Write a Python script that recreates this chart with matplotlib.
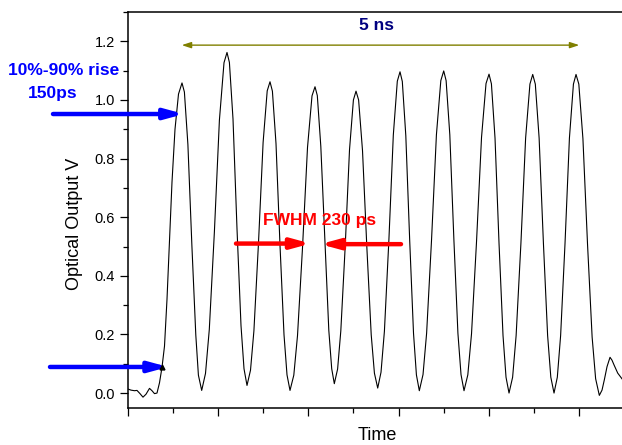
# optical pulse train - scope trace with rise time / FWHM annotations
from matplotlib import pyplot as plt
from matplotlib.ticker import MultipleLocator
import numpy as np

plt.rcParams['font.family'] = ['Liberation Sans', 'DejaVu Sans']

# trace (time in ps, arbitrary origin)
time_ps = [0, 33, 68, 93, 123, 153, 183, 218, 243, 268, 293, 318, 343, 368, 393, 418, 443, 473, 508, 543,
           567, 602, 642, 681, 707, 740,
           778, 816, 867, 917, 963, 993,
           1017, 1053, 1093, 1133, 1163, 1193,
           1228, 1262, 1308, 1354, 1395, 1423,
           1447, 1483, 1523, 1563, 1593, 1623,
           1661, 1698, 1748, 1798, 1843, 1873,
           1896, 1931, 1973, 2011, 2040, 2066,
           2099, 2131, 2175, 2218, 2257, 2283,
           2309, 2348, 2392, 2435, 2467, 2500,
           2533, 2567, 2612, 2656, 2696, 2723,
           2746, 2781, 2820, 2858, 2887, 2916,
           2953, 2989, 3038, 3087, 3131, 3160,
           3184, 3221, 3262, 3302, 3333, 3363,
           3401, 3438, 3488, 3538, 3583, 3613,
           3637, 3673, 3713, 3753, 3783, 3813,
           3849, 3884, 3932, 3979, 4022, 4050,
           4076, 4114, 4157, 4199, 4231, 4263,
           4296, 4329, 4373, 4417, 4457, 4483,
           4511, 4552, 4598, 4644, 4679, 4716,
           4743, 4766, 4793, 4823, 4843, 4863, 4900, 4943, 4973]

optical_v = [0.014, 0.010, 0.008, 0.009, -0.002, -0.014, -0.004, 0.016, 0.008, -0.002, 0.000, 0.035, 0.088,
             0.160, 0.320, 0.520, 0.720, 0.900, 1.020, 1.058,
             1.027, 0.848, 0.502, 0.198, 0.061, 0.009,
             0.067, 0.217, 0.551, 0.931, 1.127, 1.162,
             1.128, 0.935, 0.560, 0.230, 0.083, 0.026,
             0.078, 0.212, 0.513, 0.855, 1.031, 1.062,
             1.030, 0.851, 0.504, 0.199, 0.062, 0.009,
             0.061, 0.196, 0.496, 0.838, 1.014, 1.045,
             1.015, 0.842, 0.508, 0.214, 0.083, 0.032,
             0.082, 0.212, 0.501, 0.830, 1.000, 1.030,
             1.000, 0.827, 0.493, 0.199, 0.068, 0.017,
             0.071, 0.211, 0.524, 0.880, 1.064, 1.096,
             1.063, 0.878, 0.519, 0.204, 0.062, 0.008,
             0.063, 0.204, 0.521, 0.881, 1.066, 1.099,
             1.066, 0.881, 0.521, 0.204, 0.063, 0.008,
             0.062, 0.202, 0.516, 0.872, 1.056, 1.088,
             1.055, 0.870, 0.511, 0.196, 0.054, 0.000,
             0.054, 0.196, 0.511, 0.870, 1.054, 1.087,
             1.054, 0.870, 0.511, 0.196, 0.054, 0.000,
             0.054, 0.196, 0.511, 0.870, 1.054, 1.087,
             1.054, 0.868, 0.508, 0.191, 0.049, -0.008,
             0.010, 0.045, 0.090, 0.122, 0.112, 0.096, 0.068, 0.048, 0.036]

# point where the 10% marker sits
rise_start = (343, 0.088)

fig = plt.figure(figsize=(6.22, 4.45), dpi=100)
ax = fig.add_axes([0.2053, 0.0838, 0.7986, 0.8892])

ax.plot(time_ps, optical_v, color='black', lw=0.8)
ax.plot(rise_start[0], rise_start[1], marker='^', color='black', ms=3.5, clip_on=False, zorder=4)

ax.set_xlim(0, 4967)
ax.set_ylim(-0.05, 1.3)

# ticks
ax.xaxis.set_major_locator(MultipleLocator(903))
ax.xaxis.set_minor_locator(MultipleLocator(451.5))
ax.yaxis.set_major_locator(MultipleLocator(0.2))
ax.yaxis.set_minor_locator(MultipleLocator(0.1))
ax.set_xticklabels([])
ax.yaxis.set_major_formatter(plt.FormatStrFormatter('%.1f'))
ax.tick_params(axis='both', which='major', direction='out', length=6, width=0.9, labelsize=10.5, pad=3)
ax.tick_params(axis='both', which='minor', direction='out', length=3.4, width=0.9)
ax.tick_params(top=False, right=False, which='both')
for s in ax.spines.values():
    s.set_linewidth(1.1)
ax.spines['right'].set_visible(False)

ax.set_xlabel('Time', fontsize=13)
ax.set_ylabel('Optical Output V', fontsize=13)
ax.xaxis.set_label_coords(0.502, -0.05)
ax.yaxis.set_label_coords(-0.09, 0.464)

# 5 ns span arrow
ax.annotate('', xy=(4516, 1.187), xytext=(540, 1.187), annotation_clip=False,
            arrowprops=dict(arrowstyle='<|-|>,head_length=0.55,head_width=0.18', color='#808000', lw=1,
                            shrinkA=0, shrinkB=0))
ax.text(2488, 1.254, '5 ns', color='#000080', fontsize=12.5, fontweight='bold', ha='center', va='center')

# rise time arrows
blue_arrow = dict(arrowstyle='-|>,head_length=1.1,head_width=0.3', color='#0000ff', lw=3.2,
                  shrinkA=0, shrinkB=0, capstyle='round')
ax.annotate('', xy=(563, 0.952), xytext=(-747, 0.952), annotation_clip=False, arrowprops=blue_arrow)
ax.annotate('', xy=(405, 0.089), xytext=(-777, 0.089), annotation_clip=False, arrowprops=blue_arrow)
ax.text(-637, 1.100, '10%-90% rise', color='#0000ff', fontsize=12.5, fontweight='bold',
        ha='center', va='center', clip_on=False)
ax.text(-752, 1.021, '150ps', color='#0000ff', fontsize=12.5, fontweight='bold',
        ha='center', va='center', clip_on=False)

# FWHM arrows
red_arrow = dict(arrowstyle='-|>,head_length=1.1,head_width=0.3', color='#ff0000', lw=3.2,
                 shrinkA=0, shrinkB=0, capstyle='round')
ax.annotate('', xy=(1830, 0.510), xytext=(1083, 0.510), arrowprops=red_arrow)
ax.annotate('', xy=(1925, 0.508), xytext=(2733, 0.508), arrowprops=red_arrow)
ax.text(1923, 0.590, 'FWHM 230 ps', color='#ff0000', fontsize=12.5, fontweight='bold', ha='center', va='center')

plt.savefig('out.png', dpi=100)
